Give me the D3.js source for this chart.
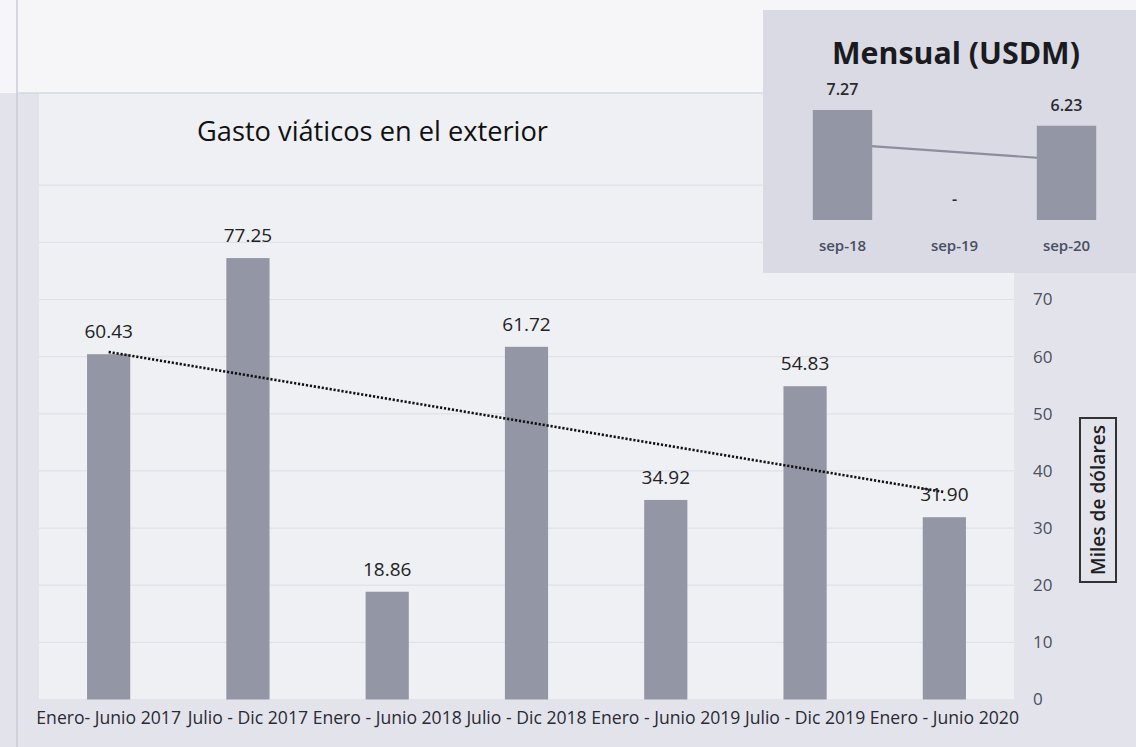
<!DOCTYPE html>
<html><head><meta charset="utf-8">
<script src="https://cdn.jsdelivr.net/npm/d3@7"></script>
<style>
html,body{margin:0;padding:0;background:#f7f7fa;}
svg{display:block;font-family:"Open Sans","Noto Sans",sans-serif;}
</style></head>
<body>
<svg id="c" width="1136" height="747"></svg>
<script>
// ---- data ----
const categories = ["Enero- Junio 2017","Julio - Dic 2017","Enero - Junio 2018","Julio - Dic 2018","Enero - Junio 2019","Julio - Dic 2019","Enero - Junio 2020"];
const values = [60.43, 77.25, 18.86, 61.72, 34.92, 54.83, 31.90];
const valueLabels = ["60.43","77.25","18.86","61.72","34.92","54.83","31.90"];
const yTicks = [0,10,20,30,40,50,60,70];
const gridValues = [10,20,30,40,50,60,70,80,90];
const insetCategories = ["sep-18","sep-19","sep-20"];
const insetValues = [7.27, 0, 6.23];
const insetLabels = ["7.27","-","6.23"];
const chartTitle = "Gasto viáticos en el exterior";
const insetTitle = "Mensual (USDM)";
const yAxisTitle = "Miles de dólares";

const svg = d3.select("#c");
const W = 1136, H = 747;
const barColor = "#9396a4";

function fitText(sel, target){
  const n = sel.node(); const fs = parseFloat(sel.attr("font-size"));
  const w = n.getComputedTextLength();
  if (w > 0) sel.attr("font-size", (fs*target/w).toFixed(2));
}
function linreg(vals){
  const xs = vals.map((d,i)=>i+1);
  const mx = d3.mean(xs), my = d3.mean(vals);
  const s = d3.sum(xs,(x,i)=>(x-mx)*(vals[i]-my)) / d3.sum(xs,x=>(x-mx)*(x-mx));
  return x => my + s*(x-mx);
}

// ---- backgrounds ----
svg.append("rect").attr("x",0).attr("y",0).attr("width",W).attr("height",H).attr("fill","#f6f6f9");
svg.append("rect").attr("x",0).attr("y",93).attr("width",W).attr("height",H-93).attr("fill","#e3e4eb");
svg.append("rect").attr("x",39).attr("y",93).attr("width",975).attr("height",606).attr("fill","#eef0f4");
svg.append("line").attr("x1",17).attr("x2",17).attr("y1",0).attr("y2",H).attr("stroke","#c9cbd8").attr("stroke-width",1.5);
svg.append("line").attr("x1",17).attr("x2",W).attr("y1",93).attr("y2",93).attr("stroke","#d6d8e2").attr("stroke-width",1.5);

// ---- scales ----
const x = d3.scaleBand().domain(categories).range([39,1014]).paddingInner(0.69).paddingOuter(0.345);
const y = d3.scaleLinear().domain([0,70]).range([699.5,299.5]);

// gridlines
svg.append("g").selectAll("line").data(gridValues).join("line")
  .attr("x1",39).attr("x2",1014).attr("y1",d=>y(d)).attr("y2",d=>y(d))
  .attr("stroke","#dfe1e9").attr("stroke-width",1.2);

// bars
svg.append("g").selectAll("rect").data(values).join("rect")
  .attr("x",(d,i)=>x(categories[i])).attr("width",x.bandwidth())
  .attr("y",d=>y(d)).attr("height",d=>y(0)-y(d)).attr("fill",barColor);

// trendline
const tr = linreg(values);
svg.append("line")
  .attr("x1",x(categories[0])+x.bandwidth()/2).attr("y1",y(tr(1)))
  .attr("x2",x(categories[6])+x.bandwidth()/2).attr("y2",y(tr(7)))
  .attr("stroke","#111").attr("stroke-width",2.6).attr("stroke-dasharray","2.2,1.8");

// value labels
svg.append("g").selectAll("text").data(values).join("text")
  .attr("x",(d,i)=>x(categories[i])+x.bandwidth()/2).attr("y",d=>y(d)-16)
  .attr("text-anchor","middle").attr("font-size",19).attr("fill","#222")
  .text((d,i)=>valueLabels[i]);

// x axis
const xAxis = svg.append("g").attr("transform","translate(0,699)")
  .call(d3.axisBottom(x).tickSize(0).tickPadding(13));
xAxis.select(".domain").remove();
xAxis.selectAll("text").attr("font-size",17.6).attr("fill","#2a2a33").attr("font-family","'Open Sans',sans-serif");

// y axis (right)
const yAxis = svg.append("g").attr("transform","translate(1020,0)")
  .call(d3.axisRight(y).tickValues(yTicks).tickSize(0).tickPadding(13));
yAxis.select(".domain").remove();
yAxis.selectAll("text").attr("font-size",17).attr("fill","#4b4f5e").attr("font-family","'Open Sans',sans-serif");

// y axis title box
const ytG = svg.append("g").attr("transform","translate(1098,500) rotate(-90)");
ytG.append("rect").attr("x",-82).attr("y",-18).attr("width",164).attr("height",36)
  .attr("fill","none").attr("stroke","#333").attr("stroke-width",2);
const ytT = ytG.append("text").attr("text-anchor","middle").attr("dy","0.35em")
  .attr("font-size",16).attr("font-weight",600).attr("fill","#1e1e24").text(yAxisTitle);
fitText(ytT,150);

// chart title
const ct = svg.append("text").attr("x",197).attr("y",141).attr("font-size",22).attr("fill","#111").text(chartTitle);
fitText(ct,351);

// ---- inset ----
svg.append("rect").attr("x",763).attr("y",10).attr("width",W-763).attr("height",263).attr("fill","#d9dae3");
const xi = d3.scaleBand().domain(insetCategories).range([786.5,1122.5]).paddingInner(0.47).paddingOuter(0.235);
const yi = d3.scaleLinear().domain([0,8]).range([220,220-8*15.13]);
const ti = linreg(insetValues);
svg.append("line")
  .attr("x1",xi(insetCategories[0])+xi.bandwidth()/2).attr("y1",yi(ti(1)))
  .attr("x2",xi(insetCategories[2])+xi.bandwidth()/2).attr("y2",yi(ti(3)))
  .attr("stroke","#8a8e9d").attr("stroke-width",2.2);
svg.append("g").selectAll("rect").data(insetValues).join("rect")
  .attr("x",(d,i)=>xi(insetCategories[i])).attr("width",xi.bandwidth())
  .attr("y",d=>yi(d)).attr("height",d=>yi(0)-yi(d)).attr("fill",barColor);
svg.append("g").selectAll("text").data(insetValues).join("text")
  .attr("x",(d,i)=>xi(insetCategories[i])+xi.bandwidth()/2).attr("y",d=>yi(d)-15)
  .attr("text-anchor","middle").attr("font-size",16).attr("font-weight",600).attr("fill","#2a2a30")
  .text((d,i)=>insetLabels[i]);
const xiAxis = svg.append("g").attr("transform","translate(0,220)")
  .call(d3.axisBottom(xi).tickSize(0).tickPadding(20));
xiAxis.select(".domain").remove();
xiAxis.selectAll("text").attr("font-size",15).attr("fill","#4a4e63").attr("font-weight",600).attr("font-family","'Open Sans',sans-serif");
const it = svg.append("text").attr("x",956).attr("y",64).attr("text-anchor","middle")
  .attr("font-size",27).attr("font-weight",700).attr("fill","#1a1a1f").text(insetTitle);
fitText(it,248);
</script>
</body></html>
